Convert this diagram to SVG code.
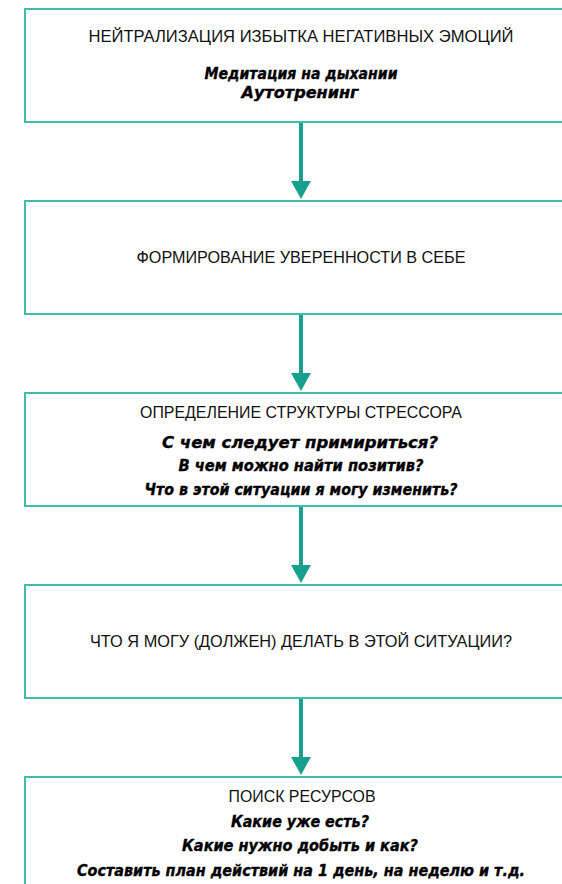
<svg xmlns="http://www.w3.org/2000/svg" width="562" height="884" viewBox="0 0 562 884">
<defs>
<style>
.box{fill:#ffffff;stroke:#3fbcae;stroke-width:2}
.h{font-family:"Liberation Sans",Arial,sans-serif;font-size:16.5px;fill:#111;text-anchor:middle}
.b{font-family:"DejaVu Sans","Liberation Sans",sans-serif;font-size:15.5px;font-weight:bold;font-style:italic;fill:#000;stroke:#000;stroke-width:0.35;text-anchor:middle}
.shaft{stroke:#18a08f;stroke-width:4}
.head{fill:#18a08f}
</style>
</defs>
<rect width="562" height="884" fill="#ffffff"/>
<g id="connectors">
<line class="shaft" x1="301" y1="123" x2="301" y2="184"/>
<polygon class="head" points="291,181 311,181 301,199"/>
<line class="shaft" x1="301" y1="315" x2="301" y2="376"/>
<polygon class="head" points="291,373 311,373 301,391"/>
<line class="shaft" x1="301" y1="507" x2="301" y2="568"/>
<polygon class="head" points="291,565 311,565 301,583"/>
<line class="shaft" x1="301" y1="699" x2="301" y2="760"/>
<polygon class="head" points="291,757 311,757 301,775"/>
</g>
<g id="node1">
<rect class="box" x="25" y="9" width="560" height="113"/>
<text class="h" x="301" y="42" textLength="425" lengthAdjust="spacingAndGlyphs">НЕЙТРАЛИЗАЦИЯ ИЗБЫТКА НЕГАТИВНЫХ ЭМОЦИЙ</text>
<text class="b" x="301" y="79" textLength="193" lengthAdjust="spacingAndGlyphs">Медитация на дыхании</text>
<text class="b" x="300" y="98" textLength="117" lengthAdjust="spacingAndGlyphs">Аутотренинг</text>
</g>
<g id="node2">
<rect class="box" x="25" y="201" width="560" height="113"/>
<text class="h" x="301" y="263" textLength="329" lengthAdjust="spacingAndGlyphs">ФОРМИРОВАНИЕ УВЕРЕННОСТИ В СЕБЕ</text>
</g>
<g id="node3">
<rect class="box" x="25" y="393" width="560" height="113"/>
<text class="h" x="301" y="418" textLength="322" lengthAdjust="spacingAndGlyphs">ОПРЕДЕЛЕНИЕ СТРУКТУРЫ СТРЕССОРА</text>
<text class="b" x="300" y="448" textLength="276" lengthAdjust="spacingAndGlyphs">С чем следует примириться?</text>
<text class="b" x="301" y="471" textLength="245" lengthAdjust="spacingAndGlyphs">В чем можно найти позитив?</text>
<text class="b" x="301" y="495" textLength="313" lengthAdjust="spacingAndGlyphs">Что в этой ситуации я могу изменить?</text>
</g>
<g id="node4">
<rect class="box" x="25" y="585" width="560" height="113"/>
<text class="h" x="301" y="647" textLength="422" lengthAdjust="spacingAndGlyphs">ЧТО Я МОГУ (ДОЛЖЕН) ДЕЛАТЬ В ЭТОЙ СИТУАЦИИ?</text>
</g>
<g id="node5">
<rect class="box" x="25" y="777" width="560" height="113"/>
<text class="h" x="302" y="802" textLength="147" lengthAdjust="spacingAndGlyphs">ПОИСК РЕСУРСОВ</text>
<text class="b" x="300" y="827" textLength="138" lengthAdjust="spacingAndGlyphs">Какие уже есть?</text>
<text class="b" x="300" y="851" textLength="236" lengthAdjust="spacingAndGlyphs">Какие нужно добыть и как?</text>
<text class="b" x="301" y="876" textLength="448" lengthAdjust="spacingAndGlyphs">Составить план действий на 1 день, на неделю и т.д.</text>
</g>
</svg>
